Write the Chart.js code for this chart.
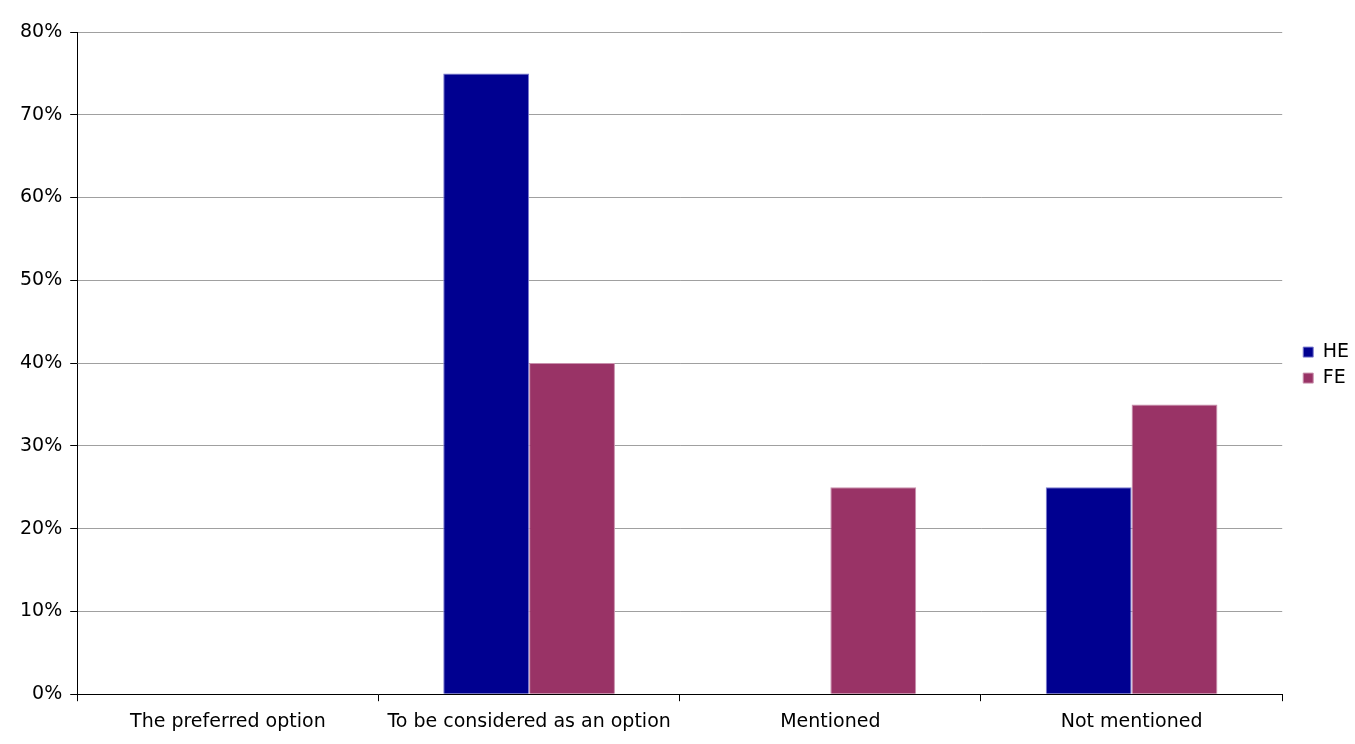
<!DOCTYPE html>
<html>
<head>
<meta charset="utf-8">
<script src="https://cdn.jsdelivr.net/npm/chart.js@4"></script>
<style>
  html, body { margin: 0; padding: 0; background: #fff; }
  #wrap { width: 1355px; height: 744px; }
</style>
</head>
<body>
<div id="wrap"><canvas id="optionsChart"></canvas></div>
<script>
// chart data
const categories = ['The preferred option', 'To be considered as an option', 'Mentioned', 'Not mentioned'];
const heValues = [0, 75, 0, 25];
const feValues = [0, 40, 25, 35];
const yTicks = [0, 10, 20, 30, 40, 50, 60, 70, 80];

// push legend items a bit away from the plot area
const legendShift = {
    id: 'legendShift',
    afterLayout(chart) {
        if (chart.legend) {
            chart.legend.left += 14;
            chart.legend.right += 14;
            chart.legend.top += 2;
            chart.legend.bottom += 2;
        }
    }
};

document.addEventListener('DOMContentLoaded', function () {
    const ctx = document.getElementById('optionsChart').getContext('2d');
    Chart.defaults.font.family = 'Verdana, "DejaVu Sans", sans-serif';
    Chart.defaults.font.size = 19;
    Chart.defaults.color = '#000';

    new Chart(ctx, {
        type: 'bar',
        data: {
            labels: categories,
            datasets: [{
                label: 'HE',
                data: heValues,
                backgroundColor: '#000090',
                borderColor: '#7a7ad0',
                borderWidth: 1
            }, {
                label: 'FE',
                data: feValues,
                backgroundColor: '#993366',
                borderColor: '#c890ac',
                borderWidth: 1
            }]
        },
        options: {
            responsive: true,
            maintainAspectRatio: false,
            animation: false,
            layout: { padding: { top: 32, left: 12, right: 10, bottom: 2 } },
            datasets: { bar: { categoryPercentage: 0.57, barPercentage: 1.0 } },
            plugins: {
                legend: {
                    position: 'right',
                    fullSize: false,
                    labels: { boxWidth: 10, boxHeight: 10, padding: 7, font: { size: 19 } }
                },
                tooltip: { enabled: false }
            },
            scales: {
                x: {
                    grid: { offset: true, drawOnChartArea: false, drawTicks: true, tickLength: 7, tickColor: '#000' },
                    border: { color: '#000', width: 1 },
                    ticks: { padding: 9, maxRotation: 0 }
                },
                y: {
                    min: 0,
                    max: 80,
                    afterBuildTicks: axis => { axis.ticks = yTicks.map(v => ({ value: v })); },
                    grid: { color: '#a0a0a0', tickLength: 7, tickColor: '#000' },
                    border: { color: '#000', width: 1 },
                    ticks: { padding: 8, callback: v => v + '%' }
                }
            }
        },
        plugins: [legendShift]
    });
});
</script>
</body>
</html>
